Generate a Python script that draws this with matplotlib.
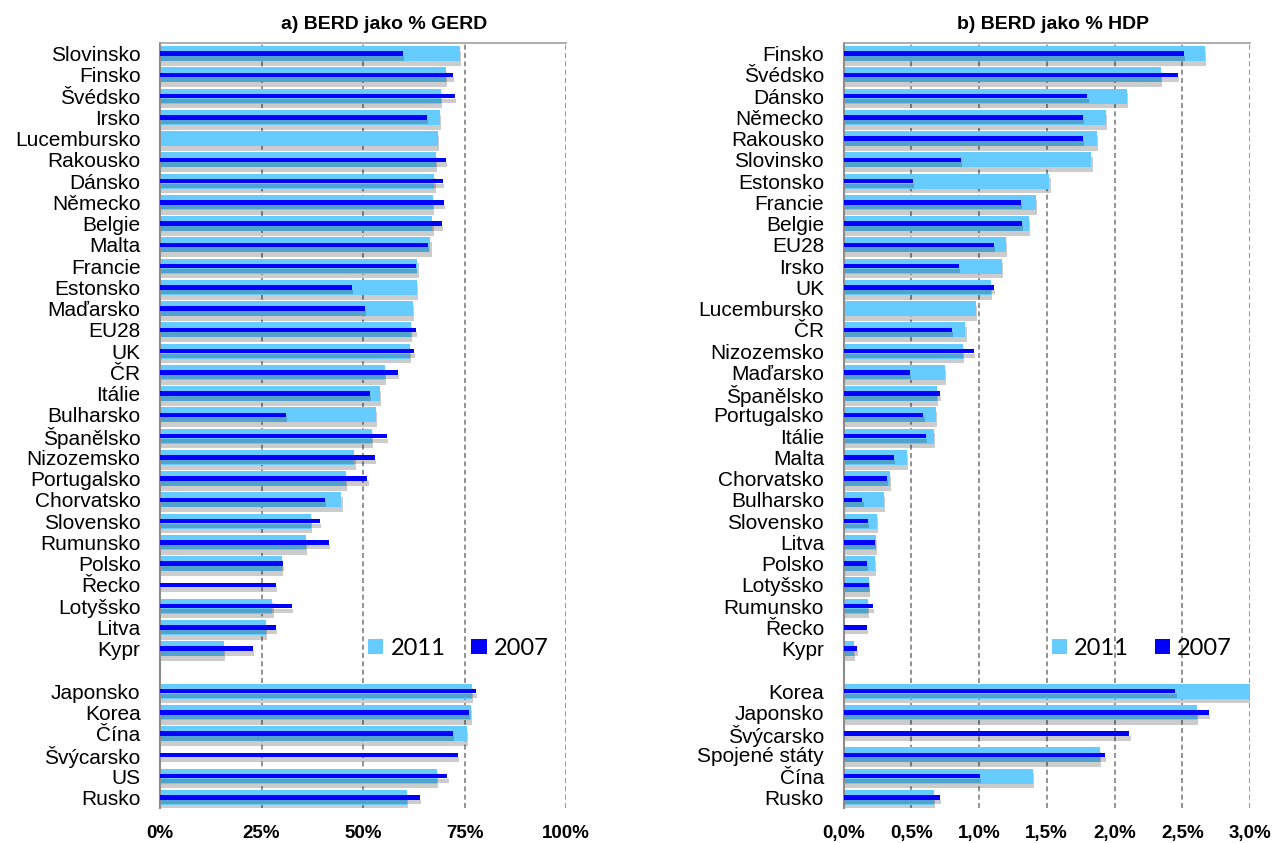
import numpy as np
import matplotlib
matplotlib.use('Agg')
import matplotlib.pyplot as plt
import matplotlib.patheffects as pe

# a) BERD as % of GERD
gerd_eu = ['Slovinsko', 'Finsko', 'Švédsko', 'Irsko', 'Lucembursko', 'Rakousko', 'Dánsko',
           'Německo', 'Belgie', 'Malta', 'Francie', 'Estonsko', 'Maďarsko', 'EU28', 'UK',
           'ČR', 'Itálie', 'Bulharsko', 'Španělsko', 'Nizozemsko', 'Portugalsko',
           'Chorvatsko', 'Slovensko', 'Rumunsko', 'Polsko', 'Řecko', 'Lotyšsko', 'Litva', 'Kypr']
gerd_eu_2011 = [73.8, 70.4, 69.3, 69.0, 68.4, 68.0, 67.6, 67.3, 67.1, 66.6, 63.4, 63.2, 62.4, 61.9,
                61.5, 55.3, 54.2, 53.1, 52.1, 47.9, 45.9, 44.7, 37.2, 36.0, 30.1, None, 27.7, 26.1, 15.7]
gerd_eu_2007 = [59.8, 72.1, 72.7, 65.8, None, 70.4, 69.8, 69.9, 69.4, 66.1, 63.0, 47.2, 50.4, 63.0,
                62.5, 58.6, 51.8, 31.1, 55.8, 53.0, 51.1, 40.6, 39.5, 41.6, 30.3, 28.5, 32.4, 28.5, 22.9]
gerd_world = ['Japonsko', 'Korea', 'Čína', 'Švýcarsko', 'US', 'Rusko']
gerd_world_2011 = [76.9, 76.5, 75.7, None, 68.3, 60.9]
gerd_world_2007 = [77.8, 76.1, 72.2, 73.3, 70.8, 64.1]
gerd_ticks = [0, 25, 50, 75, 100]
gerd_ticklabels = ['0%', '25%', '50%', '75%', '100%']

# b) BERD as % of GDP
hdp_eu = ['Finsko', 'Švédsko', 'Dánsko', 'Německo', 'Rakousko', 'Slovinsko', 'Estonsko',
          'Francie', 'Belgie', 'EU28', 'Irsko', 'UK', 'Lucembursko', 'ČR', 'Nizozemsko',
          'Maďarsko', 'Španělsko', 'Portugalsko', 'Itálie', 'Malta', 'Chorvatsko', 'Bulharsko',
          'Slovensko', 'Litva', 'Polsko', 'Lotyšsko', 'Rumunsko', 'Řecko', 'Kypr']
hdp_eu_2011 = [2.67, 2.34, 2.09, 1.94, 1.87, 1.83, 1.52, 1.42, 1.37, 1.20, 1.17, 1.09, 0.98, 0.90,
               0.88, 0.75, 0.69, 0.68, 0.67, 0.47, 0.34, 0.30, 0.25, 0.24, 0.23, 0.19, 0.18, None, 0.08]
hdp_eu_2007 = [2.51, 2.47, 1.80, 1.77, 1.77, 0.87, 0.51, 1.31, 1.32, 1.11, 0.85, 1.11, None, 0.80,
               0.96, 0.49, 0.71, 0.59, 0.61, 0.37, 0.32, 0.14, 0.18, 0.23, 0.17, 0.19, 0.22, 0.17, 0.10]
hdp_world = ['Korea', 'Japonsko', 'Švýcarsko', 'Spojené státy', 'Čína', 'Rusko']
hdp_world_2011 = [3.09, 2.61, None, 1.89, 1.40, 0.67]
hdp_world_2007 = [2.45, 2.70, 2.11, 1.93, 1.01, 0.71]
hdp_ticks = [0, 0.5, 1.0, 1.5, 2.0, 2.5, 3.0]
hdp_ticklabels = ['0,0%', '0,5%', '1,0%', '1,5%', '2,0%', '2,5%', '3,0%']

C2011 = '#66CCFF'
C2007 = '#0000FF'


def to_arr(a, b):
    return np.array([np.nan if v is None else v for v in a + [None] + b], dtype=float)


def draw_panel(ax, eu, world, v11_eu, v11_w, v07_eu, v07_w, xmax, ticks, ticklabels):
    labels = eu + [''] + world
    y = np.arange(len(labels))
    v11 = to_arr(v11_eu, v11_w)
    v07 = to_arr(v07_eu, v07_w)
    m11 = ~np.isnan(v11)
    m07 = ~np.isnan(v07)

    bars11 = ax.barh(y[m11], v11[m11], height=0.70, color=C2011, label='2011', zorder=2)
    bars07 = ax.barh(y[m07], v07[m07], height=0.22, color=C2007, label='2007', zorder=3)

    ax.set_ylim(len(labels) - 0.5, -0.5)
    ax.set_xlim(0, xmax)
    ax.set_yticks(y)
    ax.set_yticklabels(labels, fontsize=15)
    ax.set_xticks(ticks)
    ax.set_xticklabels(ticklabels, fontsize=13.5, fontweight='bold')
    ax.tick_params(axis='y', length=0, pad=14)
    ax.tick_params(axis='x', length=0, pad=12)

    ax.set_axisbelow(True)
    ax.xaxis.grid(True, linestyle=(0, (3, 2)), color='#808080', linewidth=1.2)
    for s in ['right', 'bottom']:
        ax.spines[s].set_visible(False)
    ax.spines['left'].set_color('#8c8c8c')
    ax.spines['left'].set_linewidth(1.5)
    ax.spines['top'].set_color('#a0a0a0')
    ax.spines['top'].set_linewidth(1.2)

    ax.legend(loc='center left', bbox_to_anchor=(0.49, 0.209), ncol=2, frameon=False,
              prop={'family': 'Lato', 'size': 17}, handlelength=0.64, handleheight=0.64,
              handletextpad=0.3, columnspacing=1.1, borderaxespad=0)

    # soft drop shadows like the original office chart (added after the legend)
    for b in list(bars11) + list(bars07):
        b.set_path_effects([pe.SimplePatchShadow(offset=(0.8, -3.4), shadow_rgbFace='k', alpha=0.2),
                            pe.Normal()])


def main():
    plt.rcParams['font.family'] = ['Liberation Sans', 'DejaVu Sans']
    fig = plt.figure(figsize=(12.74, 8.43), dpi=100)
    ax1 = fig.add_axes([160 / 1274, 35 / 843, 406 / 1274, 765 / 843])
    ax2 = fig.add_axes([843.5 / 1274, 35 / 843, 406.5 / 1274, 765 / 843])

    draw_panel(ax1, gerd_eu, gerd_world, gerd_eu_2011, gerd_world_2011,
               gerd_eu_2007, gerd_world_2007, 100, gerd_ticks, gerd_ticklabels)
    draw_panel(ax2, hdp_eu, hdp_world, hdp_eu_2011, hdp_world_2011,
               hdp_eu_2007, hdp_world_2007, 3.0, hdp_ticks, hdp_ticklabels)

    fig.text(384 / 1274, 1 - 29 / 843, 'a) BERD jako % GERD', ha='center', va='baseline',
             fontsize=14, fontweight='bold')
    fig.text(1053 / 1274, 1 - 29 / 843, 'b) BERD jako % HDP', ha='center', va='baseline',
             fontsize=14, fontweight='bold')

    fig.savefig('out.png', dpi=100)


if __name__ == '__main__':
    main()
